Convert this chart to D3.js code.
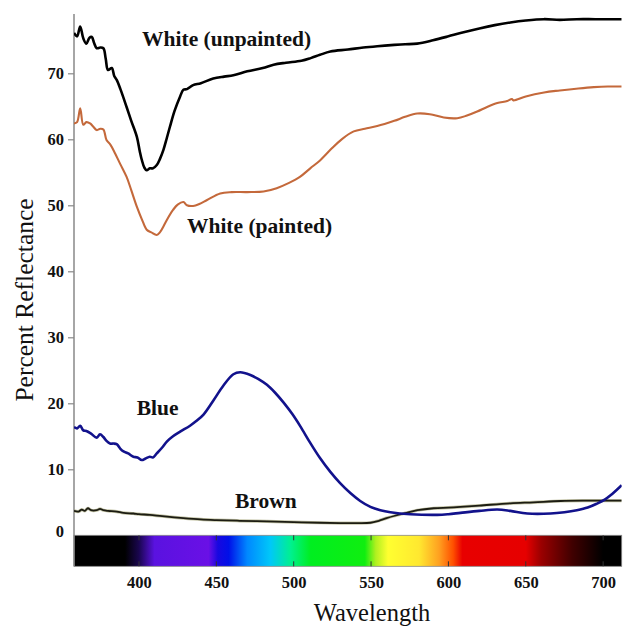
<!DOCTYPE html>
<html>
<head>
<meta charset="utf-8">
<script src="https://cdn.jsdelivr.net/npm/d3@7"></script>
<style>
  html, body { margin: 0; padding: 0; background: #fff; }
  svg { display: block; }
</style>
</head>
<body>
<svg id="chart" width="630" height="626"></svg>
<script>
// ---------- DATA (wavelength nm, percent reflectance) ----------
const whiteUnpainted = [
  [358,76.1],[360,75.6],[362,77.1],[364,75.3],[366,74.5],[368,75.4],[369.5,75.5],[371,74.6],[372.7,73.8],
  [375,73.9],[377,73.8],[378.5,72.2],[380,70.5],[382.4,70.8],[384,69.6],[385.6,69.0],[388,67.6],
  [392,64.9],[395,62.8],[398.6,60.4],[400.5,58.2],[401.8,56.9],[403.5,55.7],[405,55.3],[407,55.6],
  [409,55.6],[411.5,56.1],[413.5,57.0],[415.8,58.4],[418,60.2],[420,61.9],[423,64.3],[426.6,66.5],
  [428.7,67.5],[431,67.6],[435,68.2],[440,68.5],[448,69.2],[455,69.5],[461,69.7],[470,70.3],
  [480,70.8],[487,71.3],[495,71.6],[505,71.9],[511,72.3],[517,72.8],[523.7,73.3],[535,73.6],
  [545,73.9],[554,74.1],[565,74.3],[572,74.4],[579.8,74.5],[590,75.0],[600,75.6],[607.8,76.1],
  [620,76.8],[630,77.3],[640,77.7],[650,78.0],[661.6,78.2],[672,78.1],[683,78.2],[695,78.2],[712,78.2]
];
const whitePainted = [
  [358,62.4],[360,62.6],[362,64.7],[364,62.2],[366,62.6],[368.4,62.4],[370.5,61.9],[372.7,61.4],
  [375,61.6],[377,61.5],[379,59.9],[381.5,59.2],[384.5,57.9],[388,56.2],[392,54.3],[395,52.3],
  [398.6,49.8],[402,47.8],[405,46.3],[408,45.9],[411.5,45.5],[413.5,45.9],[415.8,46.8],[419,48.2],
  [422,49.3],[425,50.1],[428.7,50.5],[431,50.0],[435,49.9],[439,50.2],[444,50.8],[452.5,51.8],
  [460,52.0],[470,52.0],[480.5,52.1],[489,52.6],[497,53.4],[504,54.3],[510.7,55.6],[517,56.8],
  [523.7,58.4],[531,60.0],[538.8,61.2],[546,61.6],[554,62.0],[565,62.8],[572,63.4],[579.8,63.9],
  [588,63.8],[597,63.3],[605.7,63.2],[612,63.6],[618.6,64.2],[625,64.9],[631.6,65.5],[638,65.8],
  [641,66.1],[642,65.9],[650,66.5],[661.8,67.1],[672,67.4],[684,67.7],[694,67.9],[703,68.0],[712,68.0]
];
const blue = [
  [358,16.4],[360,16.2],[362,16.6],[364,15.9],[366,15.8],[369,15.4],[372.7,14.8],[374.8,15.3],
  [377,14.9],[379,14.3],[381.3,13.9],[383.5,13.9],[385.6,13.8],[388,13.1],[390,12.7],[393,12.4],
  [396.4,11.9],[399,11.8],[401.8,11.4],[404,11.6],[407,11.9],[409,11.8],[411.5,12.4],[415,13.3],
  [418,14.2],[422,15.0],[426.6,15.7],[433,16.6],[437,17.3],[441.7,18.3],[448,20.4],[454.6,22.7],
  [461,24.4],[465.4,24.7],[472,24.3],[477,23.7],[482.7,22.8],[488,21.6],[493.5,20.1],[499,18.4],
  [504.3,16.5],[510.7,14.0],[517,11.7],[523.7,9.6],[530,7.9],[536.6,6.4],[543,5.2],[549.6,4.3],
  [556,3.8],[562.5,3.5],[575.5,3.2],[592.8,3.1],[600,3.2],[607.8,3.4],[620,3.7],[631.6,3.9],
  [640,3.7],[651,3.3],[666,3.3],[675,3.5],[683,3.8],[690,4.2],[696,4.8],[701,5.4],[705,6.1],[712,7.6]
];
const brown = [
  [358,3.7],[361,3.6],[363,3.9],[365,3.7],[367,4.1],[369,3.8],[372.7,3.8],[374.8,4.0],[377,3.8],
  [380,3.7],[385.6,3.6],[390,3.4],[396.4,3.3],[400,3.2],[407,3.1],[415,2.9],[428.7,2.6],[440,2.4],
  [450,2.3],[465,2.2],[482.7,2.1],[500,2.0],[517,1.9],[530,1.85],[540,1.85],[549.6,1.9],[555,2.2],
  [560,2.6],[566,3.0],[573,3.4],[580,3.8],[590.5,4.1],[600,4.2],[607.8,4.3],[620,4.5],[640,4.85],
  [655,5.0],[672.6,5.2],[690,5.25],[712,5.25]
];
const yTicks = [0,10,20,30,40,50,60,70];
const xTicks = [400,450,500,550,600,650,700];
const spectrumStopsNm = [358,391,400,410,445,451,458,470,485,498,511,546,553,561,581,594,603,609,650,660,680,700,712];
const spectrumStopsColor = ["#000000","#000000","#1a0650","#5a12e0","#6a10e6","#1808e0","#0010e8","#0088ff","#00c8f8","#00f090","#00ee20","#10ee10","#b0f020","#ffff30","#ffe830","#ffa020","#ff5000","#e80000","#e60000","#9a0000","#400000","#000000","#000000"];
const labels = [
  {text:"White (unpainted)", nm:402, v:74.1},
  {text:"White (painted)", nm:431, v:45.8},
  {text:"Blue", nm:398.5, v:18.2},
  {text:"Brown", nm:462, v:4.2}
];

// ---------- CHART ----------
const svg = d3.select("#chart");
const x = d3.scaleLinear().domain([358,712]).range([74,621.7]);
const y = d3.scaleLinear().domain([0,79]).range([535.3,13.9]);
const serif = "'Liberation Serif','Times New Roman',serif";

// spectrum gradient
const defs = svg.append("defs");
const grad = defs.append("linearGradient").attr("id","spec")
  .attr("x1","0%").attr("x2","100%").attr("y1","0%").attr("y2","0%");
spectrumStopsNm.forEach((nm,i) => {
  grad.append("stop").attr("offset", ((x(nm)-x(358))/(x(712)-x(358))*100)+"%")
    .attr("stop-color", spectrumStopsColor[i]);
});
defs.append("clipPath").attr("id","plot").append("rect")
  .attr("x",x(358)).attr("y",y(79)).attr("width",x(712)-x(358)).attr("height",y(0)-y(79));

const barTop = y(0), barBot = y(-4.7);
svg.append("rect").attr("x",x(358)).attr("y",barTop).attr("width",x(712)-x(358))
  .attr("height",barBot-barTop).attr("fill","url(#spec)")
  .attr("stroke","#888").attr("stroke-width",0.8);
// bar ticks
xTicks.forEach(t => {
  svg.append("line").attr("x1",x(t)).attr("x2",x(t)).attr("y1",barTop).attr("y2",barTop+5)
    .attr("stroke","#333").attr("stroke-width",1);
  svg.append("line").attr("x1",x(t)).attr("x2",x(t)).attr("y1",barBot-5).attr("y2",barBot)
    .attr("stroke","#333").attr("stroke-width",1);
});

// y axis
const yAxis = svg.append("g").attr("transform",`translate(${x(358)},0)`)
  .call(d3.axisLeft(y).tickValues(yTicks).tickSize(6).tickSizeOuter(0).tickPadding(4).tickFormat(d3.format("d")));
yAxis.select(".domain").remove();
yAxis.selectAll(".tick line").attr("stroke","#888").attr("stroke-width",1.2);
yAxis.selectAll(".tick text").attr("font-family",serif).attr("font-weight","bold")
  .attr("font-size","16.5px").attr("fill","#111");
yAxis.selectAll(".tick").filter(d => d===0).select("text").attr("dy","0.05em");
yAxis.selectAll(".tick").filter(d => d===0).select("line").remove();
svg.append("line").attr("x1",x(358)).attr("x2",x(358)).attr("y1",y(79)).attr("y2",barBot)
  .attr("stroke","#888").attr("stroke-width",1.5);

// x axis labels
const xAxis = svg.append("g").attr("transform",`translate(0,${barBot})`)
  .call(d3.axisBottom(x).tickValues(xTicks).tickSize(0).tickPadding(10).tickFormat(d3.format("d")));
xAxis.select(".domain").remove();
xAxis.selectAll(".tick text").attr("font-family",serif).attr("font-weight","bold")
  .attr("font-size","16.5px").attr("fill","#111");

// lines
const line = d3.line().x(d => x(d[0])).y(d => y(d[1])).curve(d3.curveCatmullRom.alpha(0.5));
const g = svg.append("g").attr("clip-path","url(#plot)");
g.append("path").datum(brown).attr("d",line).attr("fill","none")
  .attr("stroke","#8a8a50").attr("stroke-width",3.2).attr("stroke-opacity",0.5);
g.append("path").datum(brown).attr("d",line).attr("fill","none")
  .attr("stroke","#1c1c12").attr("stroke-width",1.8);
g.append("path").datum(blue).attr("d",line).attr("fill","none")
  .attr("stroke","#12128c").attr("stroke-width",2.6);
g.append("path").datum(whitePainted).attr("d",line).attr("fill","none")
  .attr("stroke","#c4693b").attr("stroke-width",2.1);
g.append("path").datum(whiteUnpainted).attr("d",line).attr("fill","none")
  .attr("stroke","#000").attr("stroke-width",2.6);

// series labels
svg.selectAll("text.lbl").data(labels).enter().append("text").attr("class","lbl")
  .attr("x",d => x(d.nm)).attr("y",d => y(d.v)).text(d => d.text)
  .attr("font-family",serif).attr("font-weight","bold").attr("font-size","21.5px").attr("fill","#111");

// axis titles
svg.append("text").attr("transform",`translate(33,300) rotate(-90)`).attr("text-anchor","middle")
  .attr("font-family",serif).attr("font-size","25.5px").attr("fill","#111").text("Percent Reflectance");
svg.append("text").attr("x",372).attr("y",621).attr("text-anchor","middle")
  .attr("font-family",serif).attr("font-size","24.5px").attr("fill","#111").text("Wavelength");
</script>
</body>
</html>
